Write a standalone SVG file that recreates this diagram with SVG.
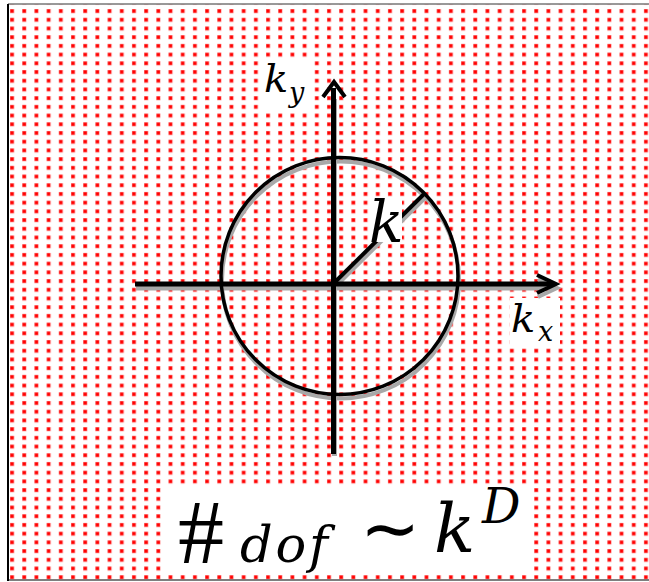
<svg xmlns="http://www.w3.org/2000/svg" width="649" height="582" viewBox="0 0 649 582">
<defs>
<pattern id="dots" patternUnits="userSpaceOnUse" x="10" y="0.3" width="12.19" height="8.71">
<rect x="-0.2" y="-0.2" width="4.4" height="4.4" fill="#ff8c8c"/>
<rect x="0.4" y="0.4" width="3.2" height="3.2" fill="#ff0000"/>
</pattern>
<style>
.ax{stroke-width:5;fill:none;stroke-linecap:butt}
.ch{stroke-width:4;fill:none;stroke-linejoin:miter}
.box{fill:#fff}
</style>
</defs>
<g id="background">
<rect x="0" y="0" width="649" height="582" fill="#fff"/>
<rect x="8" y="4" width="641" height="576" fill="url(#dots)"/>
<line x1="8" y1="4" x2="649" y2="4" stroke="#777" stroke-width="1.5"/>
<line x1="8" y1="580" x2="649" y2="580" stroke="#555" stroke-width="1.5"/>
<line x1="8" y1="4" x2="8" y2="581" stroke="#000" stroke-width="2"/>
</g>
<g id="label-boxes">
<rect class="box" x="263" y="60" width="46" height="51"/>
<rect class="box" x="510" y="298" width="50" height="49"/>
<rect class="box" x="167" y="485" width="361" height="90"/>
</g>
<g id="connectors">
<g id="shadow" stroke="#a8a8a8" transform="translate(1,4)">
<line class="ax" x1="135" y1="284" x2="553" y2="284"/>
<line class="ax" x1="333.5" y1="95" x2="333.5" y2="452"/>
<polyline class="ch" points="537,275 556,284 537,293"/>
<line x1="333" y1="284" x2="425" y2="193" stroke-width="4"/>
<circle cx="339.5" cy="276" r="118.5" fill="none" stroke-width="4"/>
</g>
<g id="lines" stroke="#000">
<line class="ax" x1="135" y1="284" x2="553" y2="284"/>
<line class="ax" x1="333.5" y1="88" x2="333.5" y2="454"/>
<polyline class="ch" points="323,97 334,82 345,97"/>
<polyline class="ch" points="537,275 556,284 537,293"/>
<line x1="333" y1="284" x2="425" y2="193" stroke-width="4"/>
<circle cx="339.5" cy="276" r="118.5" fill="none" stroke-width="3.5"/>
</g>
</g>
<g id="label-box-k">
<rect class="box" x="370" y="197" width="32" height="45"/>
</g>
<g id="label-ky" font-family="DejaVu Serif, serif" font-style="italic" fill="#000">
<text x="264" y="92" font-size="40">k</text>
<text x="289" y="102" font-size="27">y</text>
</g>
<g id="label-kx" font-family="DejaVu Serif, serif" font-style="italic" fill="#000">
<text x="511" y="332" font-size="40">k</text>
<text x="538" y="341" font-size="27">x</text>
</g>
<g id="label-k" font-family="DejaVu Serif, serif" font-style="italic" fill="#000">
<text x="369" y="242" font-size="57">k</text>
</g>
<g id="formula" font-family="DejaVu Serif, serif" fill="#000">
<text x="178" y="563" font-size="92" font-family="Liberation Serif, serif">#</text>
<text x="240" y="562" font-size="51" font-style="italic" textLength="88" lengthAdjust="spacing">dof</text>
<text x="360" y="553" font-size="72" font-family="DejaVu Sans, sans-serif">∼</text>
<text x="434" y="552" font-size="68" font-style="italic">k</text>
<text x="482" y="523" font-size="48" font-style="italic">D</text>
</g>
</svg>
